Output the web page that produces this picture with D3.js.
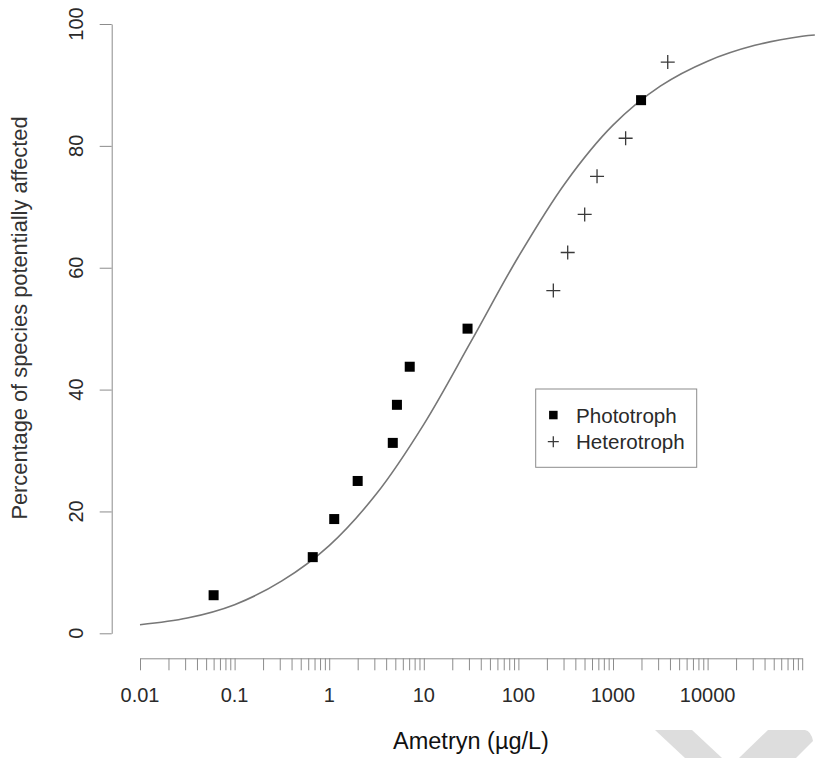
<!DOCTYPE html>
<html>
<head>
<meta charset="utf-8">
<script src="https://cdn.jsdelivr.net/npm/d3@7"></script>
<style>
  body { margin: 0; background: #fff; }
  svg { display: block; font-family: "Liberation Sans", Arial, sans-serif; }
</style>
</head>
<body>
<svg id="chart"></svg>
<script>
// values
const phototrophConc = [0.06, 0.67, 1.13, 2.0, 4.7, 5.2, 7.1, 29, 1980];
const phototrophPct = [6.25, 12.5, 18.75, 25, 31.25, 37.5, 43.75, 50, 87.5];
const heterotrophConc = [234, 332, 502, 678, 1360, 3790];
const heterotrophPct = [56.25, 62.5, 68.75, 75, 81.25, 93.75];

// fitted curve
const curveConc = [0.01, 0.0316, 0.1, 0.316, 1, 3.16, 10, 31.6, 100, 316, 1000, 3160, 10000, 31600, 100000, 136000];
const curvePct = [1.4, 2.5, 4.7, 8.6, 14.4, 22.9, 34.3, 47.9, 61.8, 74.0, 83.4, 89.8, 93.9, 96.5, 98.0, 98.2];

const xTickLabels = ["0.01", "0.1", "1", "10", "100", "1000", "10000"];
const yTicks = [0, 20, 40, 60, 80, 100];
const legendLabels = ["Phototroph", "Heterotroph"];

const width = 815, height = 758;
const svg = d3.select("#chart").attr("width", width).attr("height", height);

const x = d3.scaleLog().domain([0.01, 100000]).range([140, 802.2]);
const y = d3.scaleLinear().domain([0, 100]).range([633.3, 24]);

const axisColor = "#8c8c8c";
const textColor = "#2a2a2a";

// minor ticks 1..9 in every decade, plus 1e5
const xTicks = [];
for (let k = -2; k <= 4; k++) {
  for (let m = 1; m <= 9; m++) xTicks.push(+(m * Math.pow(10, k)).toPrecision(3));
}
xTicks.push(100000);

const gx = svg.append("g")
  .attr("transform", "translate(0,658.3)")
  .call(d3.axisBottom(x).tickValues(xTicks).tickSize(12).tickSizeOuter(0).tickFormat(""));
gx.selectAll("path, line").attr("stroke", axisColor);

gx.selectAll("text.lab")
  .data(xTickLabels)
  .enter()
  .append("text")
  .attr("class", "lab")
  .attr("x", (d) => x(+d))
  .attr("y", 44.2)
  .attr("text-anchor", "middle")
  .attr("fill", textColor)
  .attr("font-size", 20)
  .text((d) => d);

const gy = svg.append("g")
  .attr("transform", "translate(111.7,0)")
  .call(d3.axisLeft(y).tickValues(yTicks).tickSize(12).tickSizeOuter(0).tickFormat(""));
gy.selectAll("path, line").attr("stroke", axisColor);

gy.selectAll("text.lab")
  .data(yTicks)
  .enter()
  .append("text")
  .attr("class", "lab")
  .attr("transform", (d) => `translate(-28.5,${y(d)}) rotate(-90)`)
  .attr("text-anchor", "middle")
  .attr("fill", textColor)
  .attr("font-size", 20)
  .text((d) => d);

// axis titles
svg.append("text")
  .attr("x", 471)
  .attr("y", 749)
  .attr("text-anchor", "middle")
  .attr("font-size", 23.5)
  .attr("fill", "#111")
  .text("Ametryn (µg/L)");

svg.append("text")
  .attr("transform", "translate(27,318) rotate(-90)")
  .attr("text-anchor", "middle")
  .attr("font-size", 21.8)
  .attr("fill", "#333")
  .text("Percentage of species potentially affected");

// fitted curve
const curveData = curveConc.map((c, i) => ({ c: c, p: curvePct[ i ] }));
svg.append("path")
  .datum(curveData)
  .attr("fill", "none")
  .attr("stroke", "#777")
  .attr("stroke-width", 1.6)
  .attr("d", d3.line().x((d) => x(d.c)).y((d) => y(d.p)).curve(d3.curveCatmullRom));

// phototroph squares
const photo = phototrophConc.map((c, i) => ({ c: c, p: phototrophPct[ i ] }));
svg.selectAll("rect.photo")
  .data(photo)
  .enter()
  .append("rect")
  .attr("class", "photo")
  .attr("x", (d) => x(d.c) - 5)
  .attr("y", (d) => y(d.p) - 5)
  .attr("width", 10)
  .attr("height", 10)
  .attr("fill", "#000");

// heterotroph crosses
const hetero = heterotrophConc.map((c, i) => ({ c: c, p: heterotrophPct[ i ] }));
const plus = (s) => `M${-s},0H${s}M0,${-s}V${s}`;
svg.selectAll("path.hetero")
  .data(hetero)
  .enter()
  .append("path")
  .attr("class", "hetero")
  .attr("transform", (d) => `translate(${x(d.c)},${y(d.p)})`)
  .attr("d", plus(7))
  .attr("stroke", "#3a3a3a")
  .attr("stroke-width", 1.3)
  .attr("fill", "none");

// legend
const legend = svg.append("g").attr("transform", "translate(535.7,389)");
legend.append("rect")
  .attr("width", 161)
  .attr("height", 78.3)
  .attr("fill", "#fff")
  .attr("stroke", "#8c8c8c")
  .attr("stroke-width", 1);
legend.append("rect")
  .attr("x", 13.4).attr("y", 21.8)
  .attr("width", 8.5).attr("height", 8.5)
  .attr("fill", "#000");
legend.append("path")
  .attr("transform", "translate(17.6,52.7)")
  .attr("d", plus(5.5))
  .attr("stroke", "#3a3a3a")
  .attr("stroke-width", 1.3);
legend.selectAll("text")
  .data(legendLabels)
  .enter()
  .append("text")
  .attr("x", 40.3)
  .attr("y", (d, i) => 33.5 + i * 26.7)
  .attr("font-size", 20.6)
  .attr("fill", textColor)
  .text((d) => d);

// grey watermark shapes in the bottom right corner
const mark = svg.append("g").attr("fill", "#dddddd");
mark.append("path").attr("d", "M655,730H692L722,758H685Z");
mark.append("path").attr("d", "M768,730H805Q811,731 813,741L796,758H739Z");
</script>
</body>
</html>
